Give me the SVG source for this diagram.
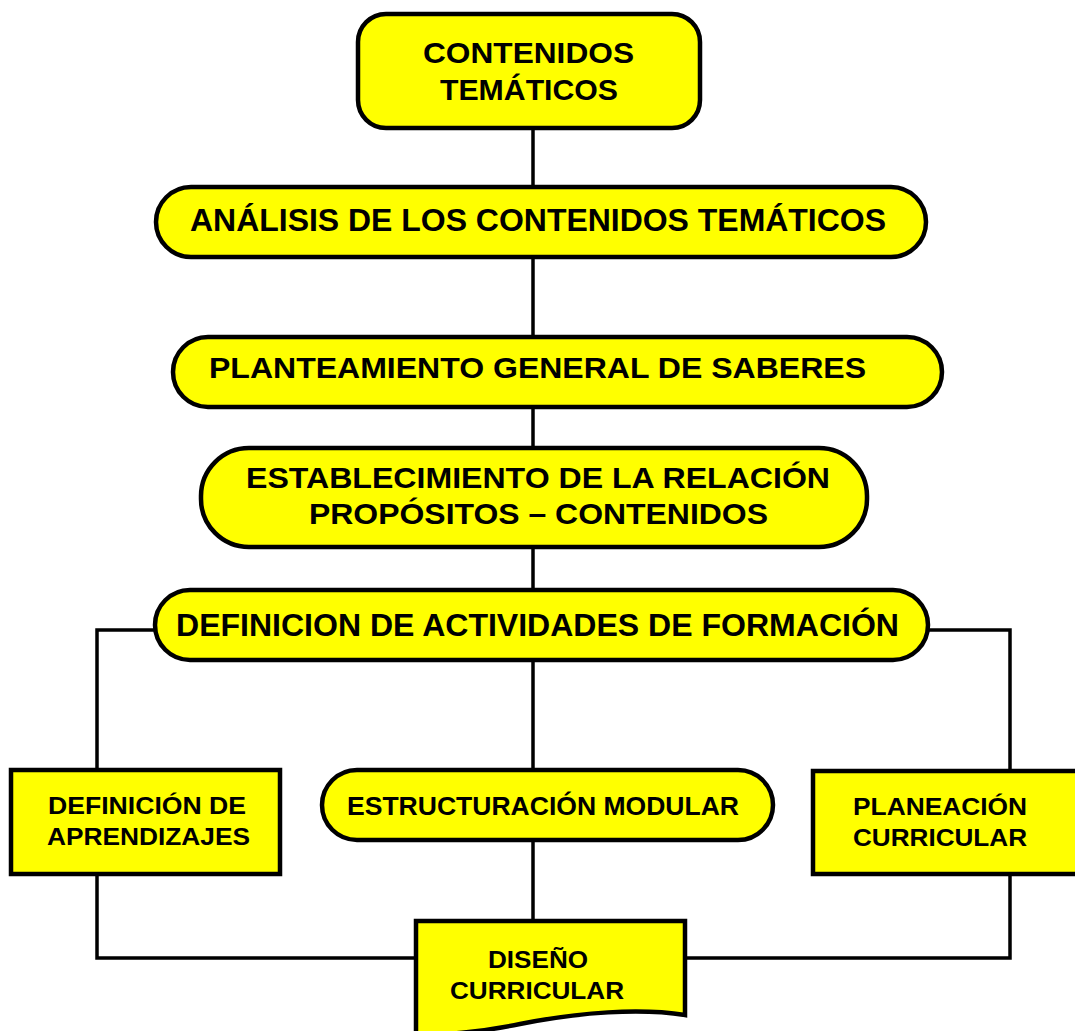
<svg xmlns="http://www.w3.org/2000/svg" width="1075" height="1031" viewBox="0 0 1075 1031">
<style>
.box{fill:#FFFF00;stroke:#000;stroke-width:4.5}
.t{font-family:"Liberation Sans",Arial,sans-serif;font-weight:bold;fill:#000}
.c{fill:none;stroke:#000;stroke-width:3.5}
</style>
<rect width="1075" height="1031" fill="#fff"/>
<g id="connectors">
<line class="c" x1="533" y1="128" x2="533" y2="188"/>
<line class="c" x1="533" y1="257" x2="533" y2="338"/>
<line class="c" x1="533" y1="407" x2="533" y2="449"/>
<line class="c" x1="533" y1="546" x2="533" y2="590"/>
<line class="c" x1="533" y1="660" x2="533" y2="770"/>
<polyline class="c" points="155,630 97,630 97,770"/>
<polyline class="c" points="928,630 1010,630 1010,771"/>
<polyline class="c" points="97,874 97,958 416,958"/>
<line class="c" x1="533" y1="840" x2="533" y2="921"/>
<polyline class="c" points="1010,873 1010,958 685,958"/>
</g>
<g id="n1">
<rect class="box" x="358" y="14" width="342" height="114" rx="28"/>
<text class="t" x="423" y="63" font-size="30" textLength="211" lengthAdjust="spacingAndGlyphs">CONTENIDOS</text>
<text class="t" x="440" y="100" font-size="30" textLength="178" lengthAdjust="spacingAndGlyphs">TEMÁTICOS</text>
</g>
<g id="n2">
<rect class="box" x="156" y="187" width="770" height="70" rx="35"/>
<text class="t" x="190" y="231" font-size="31" textLength="696" lengthAdjust="spacingAndGlyphs">ANÁLISIS DE LOS CONTENIDOS TEMÁTICOS</text>
</g>
<g id="n3">
<rect class="box" x="173" y="337" width="769" height="70" rx="35"/>
<text class="t" x="209" y="378" font-size="30" textLength="657" lengthAdjust="spacingAndGlyphs">PLANTEAMIENTO GENERAL DE SABERES</text>
</g>
<g id="n4">
<rect class="box" x="201" y="448" width="666" height="99" rx="48"/>
<text class="t" x="246" y="488" font-size="30" textLength="584" lengthAdjust="spacingAndGlyphs">ESTABLECIMIENTO DE LA RELACIÓN</text>
<text class="t" x="309" y="524" font-size="30" textLength="459" lengthAdjust="spacingAndGlyphs">PROPÓSITOS – CONTENIDOS</text>
</g>
<g id="n5">
<rect class="box" x="155" y="590" width="773" height="70" rx="35"/>
<text class="t" x="176" y="636" font-size="31" textLength="723" lengthAdjust="spacingAndGlyphs">DEFINICION DE ACTIVIDADES DE FORMACIÓN</text>
</g>
<g id="n6">
<rect class="box" x="11" y="770" width="269" height="104"/>
<text class="t" x="48" y="814" font-size="24" textLength="198" lengthAdjust="spacingAndGlyphs">DEFINICIÓN DE</text>
<text class="t" x="47" y="845" font-size="24" textLength="203" lengthAdjust="spacingAndGlyphs">APRENDIZAJES</text>
</g>
<g id="n7">
<rect class="box" x="322" y="770" width="451" height="70" rx="35"/>
<text class="t" x="347" y="815" font-size="25" textLength="392" lengthAdjust="spacingAndGlyphs">ESTRUCTURACIÓN MODULAR</text>
</g>
<g id="n8">
<rect class="box" x="813" y="771" width="280" height="103"/>
<text class="t" x="853" y="815" font-size="24" textLength="174" lengthAdjust="spacingAndGlyphs">PLANEACIÓN</text>
<text class="t" x="853" y="846" font-size="24" textLength="174" lengthAdjust="spacingAndGlyphs">CURRICULAR</text>
</g>
<g id="n9">
<path class="box" d="M416,921 H685 V1015 C640,1008 580,1012 520,1024 C480,1032 440,1036 416,1034 Z"/>
<text class="t" x="488" y="968" font-size="24" textLength="100" lengthAdjust="spacingAndGlyphs">DISEÑO</text>
<text class="t" x="450" y="999" font-size="24" textLength="174" lengthAdjust="spacingAndGlyphs">CURRICULAR</text>
</g>
</svg>
